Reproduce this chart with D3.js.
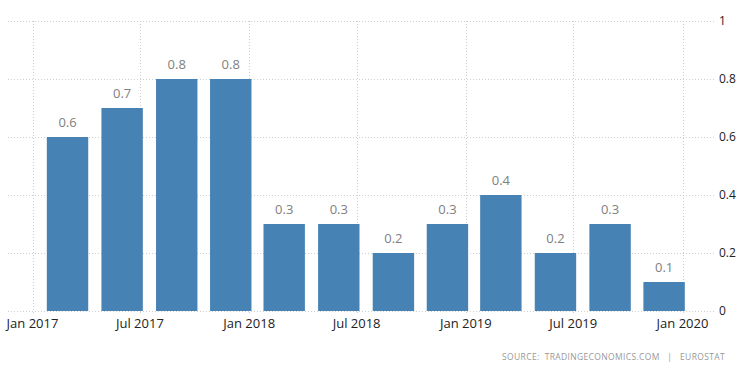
<!DOCTYPE html>
<html>
<head>
<meta charset="utf-8">
<script src="https://cdn.jsdelivr.net/npm/d3@7"></script>
<style>
  body { margin: 0; background: #fff; }
  svg text { font-family: "Open Sans", sans-serif; }
</style>
</head>
<body>
<div id="chart"></div>
<script>
// quarterly values, bars sit near the end of each quarter
const periods = ["2017-03-01", "2017-06-01", "2017-09-01", "2017-12-01",
                 "2018-03-01", "2018-06-01", "2018-09-01", "2018-12-01",
                 "2019-03-01", "2019-06-01", "2019-09-01", "2019-12-01"];
const values = [0.6, 0.7, 0.8, 0.8, 0.3, 0.3, 0.2, 0.3, 0.4, 0.2, 0.3, 0.1];
const xTicks = ["2017-01-01", "2017-07-01", "2018-01-01", "2018-07-01",
                "2019-01-01", "2019-07-01", "2020-01-01"];
const yTicks = [0, 0.2, 0.4, 0.6, 0.8, 1];

const width = 750, height = 373;
const parse = d3.timeParse("%Y-%m-%d");
const data = periods.map((p, i) => ({date: parse(p), value: values[i]}));

const svg = d3.select("#chart").append("svg")
    .attr("width", width)
    .attr("height", height);

const x = d3.scaleTime()
    .domain([parse("2017-01-01"), parse("2020-01-01")])
    .range([32.5, 682.5]);
const y = d3.scaleLinear()
    .domain([0, 1])
    .range([311, 21]);

const barW = (x(parse("2017-04-01")) - x(parse("2017-01-01"))) * 0.775;

// horizontal grid
svg.append("g").selectAll("line")
    .data(yTicks).enter()
    .append("line")
    .attr("x1", 8).attr("x2", 716)
    .attr("y1", d => Math.round(y(d)) + 0.5)
    .attr("y2", d => Math.round(y(d)) + 0.5)
    .style("stroke", "#cfcfcf")
    .style("stroke-dasharray", "1,2");

// vertical grid
svg.append("g").selectAll("line")
    .data(xTicks).enter()
    .append("line")
    .attr("x1", d => Math.round(x(parse(d))) + 0.5)
    .attr("x2", d => Math.round(x(parse(d))) + 0.5)
    .attr("y1", y(1)).attr("y2", y(0) + 4)
    .style("stroke", "#cfcfcf")
    .style("stroke-dasharray", "1,2");

// bars
svg.append("g").selectAll("rect")
    .data(data).enter()
    .append("rect")
    .attr("x", d => x(d.date) - barW / 2)
    .attr("y", d => y(d.value))
    .attr("width", barW)
    .attr("height", d => y(0) - y(d.value))
    .style("fill", "#4682b4");

// value labels
svg.append("g").selectAll("text")
    .data(data).enter()
    .append("text")
    .attr("x", d => x(d.date))
    .attr("y", d => y(d.value) - 10)
    .attr("text-anchor", "middle")
    .style("font-size", "13px")
    .style("fill", "#808080")
    .text(d => d.value);

// x axis labels
const fmt = d3.timeFormat("%b %Y");
svg.append("g").selectAll("text")
    .data(xTicks).enter()
    .append("text")
    .attr("x", d => x(parse(d)))
    .attr("y", 328)
    .attr("text-anchor", "middle")
    .style("font-size", "13px")
    .style("fill", "#222")
    .text(d => fmt(parse(d)));

// y axis labels on the right
svg.append("g").selectAll("text")
    .data(yTicks).enter()
    .append("text")
    .attr("x", 719)
    .attr("y", d => y(d) + 4)
    .style("font-size", "12px")
    .style("fill", "#222")
    .text(d => d3.format("~g")(d));

// source line
svg.append("text")
    .attr("x", 725)
    .attr("y", 360)
    .attr("text-anchor", "end")
    .style("font-size", "8.5px")
    .style("letter-spacing", "0.35px")
    .style("white-space", "pre")
    .style("fill", "#999")
    .text("SOURCE:  TRADINGECONOMICS.COM   |   EUROSTAT");
</script>
</body>
</html>
